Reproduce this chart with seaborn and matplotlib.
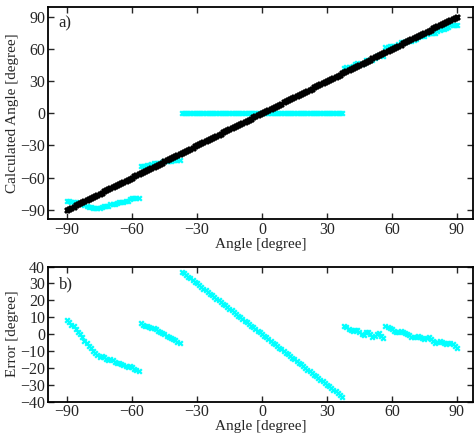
import numpy as np
import pandas as pd
import matplotlib
matplotlib.use("Agg")
import matplotlib.pyplot as plt
import seaborn as sns

# True incidence angles (degrees)
true_angle = list(range(-90, 91))

# Estimation error (calculated - true) for each branch of the estimator
seg1_angle = list(range(-90, -56))
seg1_error = [8.5, 7, 5.5, 4.5, 3, 1.5, 0, -2, -4, -5.5, -7, -8.5, -10, -11.5,
              -12.5, -13.5, -13, -13.5, -14.5, -15.5, -15, -15.5, -16.5, -17,
              -17, -17.5, -18.5, -19, -19.5, -19, -19.5, -20.5, -21, -22]
seg2_angle = list(range(-56, -37))
seg2_error = [6.5, 5.5, 5, 4.5, 4, 3.5, 3.5, 3, 2, 1, 0.5, 0, -1, -2, -2.5,
              -3, -3.5, -4.5, -5.5]
seg4_angle = list(range(38, 57))
seg4_error = [4.5, 4, 3, 2.5, 2, 2.5, 2.5, 1, 0, -0.5, 1.5, 1, 0, -1.5, -1, 0,
              0.5, -1, -2.5]
seg5_angle = list(range(57, 91))
seg5_error = [4.5, 4, 3.5, 3, 2, 1, 1.5, 2, 1, 0.5, 0, -0.5, -1.5, -2, -1.5,
              -1, -1.5, -2.5, -3, -2.5, -2, -3, -4, -5, -4.5, -4, -4.5, -5.5,
              -6, -5.5, -5, -6, -7, -8]

# Middle branch: the estimator returns zero
seg3_angle = list(range(-37, 38))
seg3_calc = [0.0] * len(seg3_angle)

x_ticks = [-90, -60, -30, 0, 30, 60, 90]
ya_ticks = [-90, -60, -30, 0, 30, 60, 90]
yb_ticks = [-40, -30, -20, -10, 0, 10, 20, 30, 40]

rows = []
for a, e in zip(seg1_angle + seg2_angle + seg4_angle + seg5_angle,
                seg1_error + seg2_error + seg4_error + seg5_error):
    rows.append((a, a + e))
for a, c in zip(seg3_angle, seg3_calc):
    rows.append((a, c))
df = pd.DataFrame(rows, columns=["angle", "calc"])
df["error"] = df["calc"] - df["angle"]
df = df.sort_values("angle")

ref = pd.DataFrame({"angle": true_angle, "calc": true_angle})

sns.set_style("ticks")
plt.rcParams["font.family"] = ["Liberation Serif", "DejaVu Serif"]
plt.rcParams["font.size"] = 11

fig = plt.figure(figsize=(4.75, 4.37), dpi=100)
ax1 = fig.add_axes([0.101, 0.498, 0.895, 0.486])
ax2 = fig.add_axes([0.101, 0.081, 0.895, 0.309])

cyan = "#00FFFF"
sns.scatterplot(data=df, x="angle", y="calc", ax=ax1, marker="x", s=11,
                color=cyan, linewidth=1.6, legend=False, zorder=2)
sns.scatterplot(data=ref, x="angle", y="calc", ax=ax1, marker="x", s=13,
                color="black", linewidth=2.0, legend=False, zorder=3)
sns.scatterplot(data=df, x="angle", y="error", ax=ax2, marker="x", s=11,
                color=cyan, linewidth=1.6, legend=False, zorder=2)

for ax in (ax1, ax2):
    ax.set_xlim(-98.8, 97.5)
    ax.set_xticks(x_ticks)
    ax.tick_params(direction="in", top=True, right=True, length=4,
                   width=1, labelsize=11.5, pad=2)
    for sp in ax.spines.values():
        sp.set_linewidth(1.3)
        sp.set_color("black")
    ax.set_xlabel("Angle [degree]", fontsize=11, labelpad=0)

ax1.set_ylim(-99, 99)
ax1.set_yticks(ya_ticks)
ax1.set_ylabel("Calculated Angle [degree]", fontsize=11, labelpad=1)
ax1.text(0.025, 0.96, "a)", transform=ax1.transAxes, fontsize=12,
         va="top", ha="left")

ax2.set_ylim(-40, 40)
ax2.set_yticks(yb_ticks)
ax2.set_ylabel("Error [degree]", fontsize=11, labelpad=1)
ax2.text(0.025, 0.93, "b)", transform=ax2.transAxes, fontsize=12,
         va="top", ha="left")

fig.savefig("out.png", dpi=100)
